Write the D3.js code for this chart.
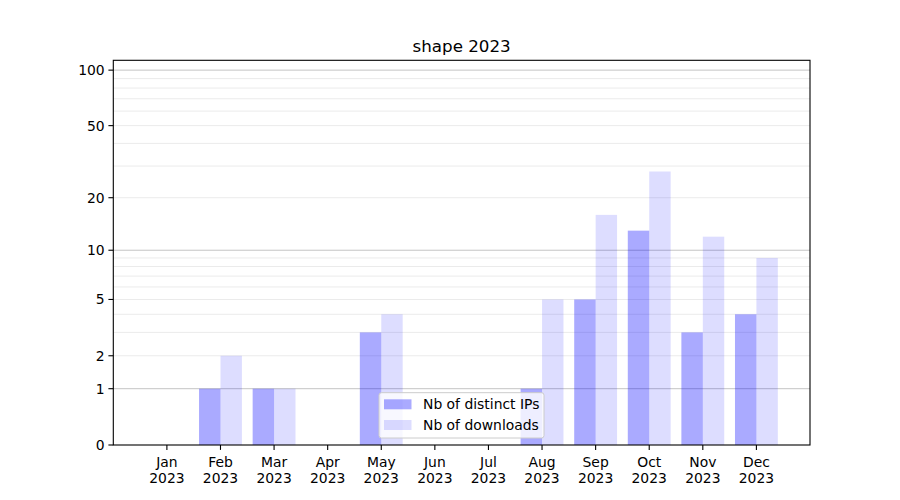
<!DOCTYPE html>
<html><head><meta charset="utf-8">
<script src="https://cdn.jsdelivr.net/npm/d3@7"></script>
<style>body{margin:0;background:#fff}svg{display:block}text{font-family:"DejaVu Sans",sans-serif;fill:#000}</style>
</head><body><svg id="c" width="900" height="500"></svg>
<script>
const months = ["Jan","Feb","Mar","Apr","May","Jun","Jul","Aug","Sep","Oct","Nov","Dec"];
const yearLabel = "2023";
const ips = [0,1,1,0,3,0,0,1,5,13,3,4];
const downloads = [0,2,1,0,4,0,0,5,16,28,12,9];
const yTicks = [0,1,2,5,10,20,50,100];
const majorGrid = [1,10,100];
const minorGrid = [2,3,4,5,6,7,8,9,20,30,40,50,60,70,80,90];
const seriesNames = ["Nb of distinct IPs","Nb of downloads"];
const title = "shape 2023";

const L=113.3,R=810,T=60.3,B=445;
const svg=d3.select("#c");
const x=d3.scaleLinear().domain([-1,12]).range([L,R]);
const y=d3.scaleSymlog().constant(1).domain([0,113]).range([B,T]);
const bw=(x(1)-x(0))*0.4;

const g=svg.append("g");
g.selectAll(".mg").data(minorGrid).join("line")
 .attr("x1",L).attr("x2",R).attr("y1",d=>y(d)).attr("y2",d=>y(d))
 .attr("stroke","#ebebeb").attr("stroke-width",1);
g.selectAll(".Mg").data(majorGrid).join("line")
 .attr("x1",L).attr("x2",R).attr("y1",d=>y(d)).attr("y2",d=>y(d))
 .attr("stroke","#c4c4c4").attr("stroke-width",1);

g.selectAll(".b1").data(ips).join("rect")
 .attr("x",(d,i)=>x(i)-bw).attr("width",bw)
 .attr("y",d=>y(d)).attr("height",d=>B-y(d))
 .attr("fill","#0000ff").attr("fill-opacity",0.333);
g.selectAll(".b2").data(downloads).join("rect")
 .attr("x",(d,i)=>x(i)).attr("width",bw)
 .attr("y",d=>y(d)).attr("height",d=>B-y(d))
 .attr("fill","#0000ff").attr("fill-opacity",0.135);

// spines
svg.append("rect").attr("x",L).attr("y",T).attr("width",R-L).attr("height",B-T)
 .attr("fill","none").attr("stroke","#000").attr("stroke-width",1.1);

// y axis
const ya=svg.append("g");
yTicks.forEach(v=>{
  const yy=y(v);
  ya.append("line").attr("x1",L-4.9).attr("x2",L).attr("y1",yy).attr("y2",yy).attr("stroke","#000").attr("stroke-width",1.1);
  ya.append("text").attr("x",L-8.6).attr("y",yy).attr("dy","0.36em").attr("text-anchor","end").attr("font-size","13.9px").text(v);
});
// x axis
const xa=svg.append("g");
months.forEach((m,i)=>{
  const xx=x(i);
  xa.append("line").attr("x1",xx).attr("x2",xx).attr("y1",B).attr("y2",B+4.9).attr("stroke","#000").attr("stroke-width",1.1);
  const t=xa.append("text").attr("x",xx).attr("y",466.5).attr("text-anchor","middle").attr("font-size","13.9px");
  t.append("tspan").attr("x",xx).text(m);
  t.append("tspan").attr("x",xx).attr("dy","16.2px").text(yearLabel);
});
// title
svg.append("text").attr("x",(L+R)/2).attr("y",52.2).attr("text-anchor","middle").attr("font-size","16.7px").text(title);

// legend
const lg=svg.append("g");
lg.append("rect").attr("x",379).attr("y",392.7).attr("width",165).attr("height",45.3).attr("rx",2.5)
 .attr("fill","#fff").attr("fill-opacity",0.8).attr("stroke","#cccccc").attr("stroke-width",1);
const op=[0.333,0.135];
seriesNames.forEach((s,i)=>{
  const cy=404.3+i*20.7;
  lg.append("rect").attr("x",384).attr("y",cy-5).attr("width",27.5).attr("height",10)
   .attr("fill","#0000ff").attr("fill-opacity",op[i]);
  lg.append("text").attr("x",423).attr("y",cy).attr("dy","0.36em").attr("font-size","13.9px").text(s);
});
</script></body></html>
